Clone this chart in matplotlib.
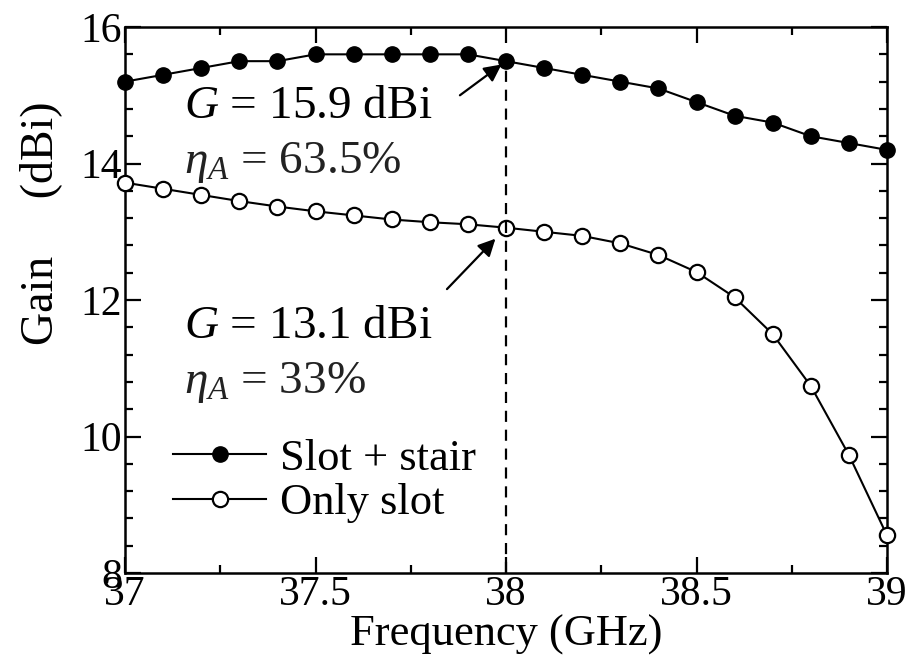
import matplotlib
matplotlib.use('Agg')
import matplotlib.pyplot as plt

# Gain vs frequency for the two antenna variants
freq = [37.0, 37.1, 37.2, 37.3, 37.4, 37.5, 37.6, 37.7, 37.8, 37.9, 38.0,
        38.1, 38.2, 38.3, 38.4, 38.5, 38.6, 38.7, 38.8, 38.9, 39.0]
gain_stair = [15.2, 15.3, 15.4, 15.5, 15.5, 15.6, 15.6, 15.6, 15.6, 15.6, 15.5,
              15.4, 15.3, 15.2, 15.1, 14.9, 14.7, 14.6, 14.4, 14.3, 14.2]
gain_slot = [13.72, 13.63, 13.54, 13.45, 13.37, 13.30, 13.24, 13.18, 13.14, 13.11, 13.06,
             13.00, 12.94, 12.83, 12.66, 12.41, 12.04, 11.50, 10.74, 9.73, 8.55]

labels = ['Slot + stair', 'Only slot']
x_ticks = [37, 37.5, 38, 38.5, 39]
x_ticklabels = ['37', '37.5', '38', '38.5', '39']
y_ticks = [8, 10, 12, 14, 16]

plt.rcParams['font.family'] = 'Liberation Serif'
plt.rcParams['mathtext.fontset'] = 'custom'
plt.rcParams['mathtext.rm'] = 'Liberation Serif'
plt.rcParams['mathtext.it'] = 'Liberation Serif:italic'

fig = plt.figure(figsize=(9.12, 6.66), dpi=100)
ax = fig.add_axes([0.1371, 0.1396, 0.8355, 0.8198])

ax.plot(freq, gain_stair, 'o-', color='black', lw=1.5, markersize=11,
        clip_on=False, zorder=4, label=labels[0])
ax.plot(freq, gain_slot, 'o-', color='black', lw=1.5, markersize=11,
        markerfacecolor='white', markeredgewidth=1.6, clip_on=False,
        zorder=3, label=labels[1])

# design frequency marker
i0 = freq.index(38.0)
ax.plot([freq[i0], freq[i0]], [8, gain_stair[i0]], color='black', lw=1.6,
        dashes=(5, 3.5), zorder=3.5)

arrow = dict(arrowstyle='-|>', color='black', lw=1.6, mutation_scale=26,
             shrinkA=0)
ax.annotate('', xy=(freq[i0], gain_stair[i0]), xytext=(37.879, 15.0),
            arrowprops=dict(arrow, shrinkB=4))
ax.annotate('', xy=(freq[i0], gain_slot[i0]), xytext=(37.845, 12.16),
            arrowprops=dict(arrow, shrinkB=11))

fs_note = 34
ax.text(37.155, 14.67, r'$G$ = 15.9 dBi', fontsize=fs_note, va='baseline')
ax.text(37.155, 13.86, r'$\eta_A$ = 63.5%', fontsize=fs_note, va='baseline',
        color='#222222')
ax.text(37.155, 11.44, r'$G$ = 13.1 dBi', fontsize=fs_note, va='baseline')
ax.text(37.155, 10.64, r'$\eta_A$ = 33%', fontsize=fs_note, va='baseline',
        color='#222222')

ax.set_xlim(37, 39)
ax.set_ylim(8, 16)
ax.set_xticks(x_ticks)
ax.set_xticklabels(x_ticklabels)
ax.set_xticks([37.25, 37.75, 38.25, 38.75], minor=True)
ax.set_yticks(y_ticks)
ax.set_yticks([8.4, 8.8, 9.2, 9.6, 10.4, 10.8, 11.2, 11.6, 12.4, 12.8, 13.2,
               13.6, 14.4, 14.8, 15.2, 15.6], minor=True)
ax.tick_params(which='both', direction='in', top=True, right=True,
               width=1.6, labelsize=30, pad=2)
ax.tick_params(which='major', length=11.5)
ax.tick_params(which='minor', length=6)
for s in ax.spines.values():
    s.set_linewidth(1.8)

ax.set_xlabel('Frequency (GHz)', fontsize=32, labelpad=0)
fig.text(0.044, 0.665, 'Gain     (dBi)', rotation=90, ha='center',
         va='center', fontsize=33)

ax.legend(loc='upper left', bbox_to_anchor=(0.063, 0.246), frameon=False,
          fontsize=32, handlelength=2.1, handletextpad=0.3, labelspacing=0.1,
          borderpad=0, borderaxespad=0)

fig.savefig('out.png', dpi=100)
